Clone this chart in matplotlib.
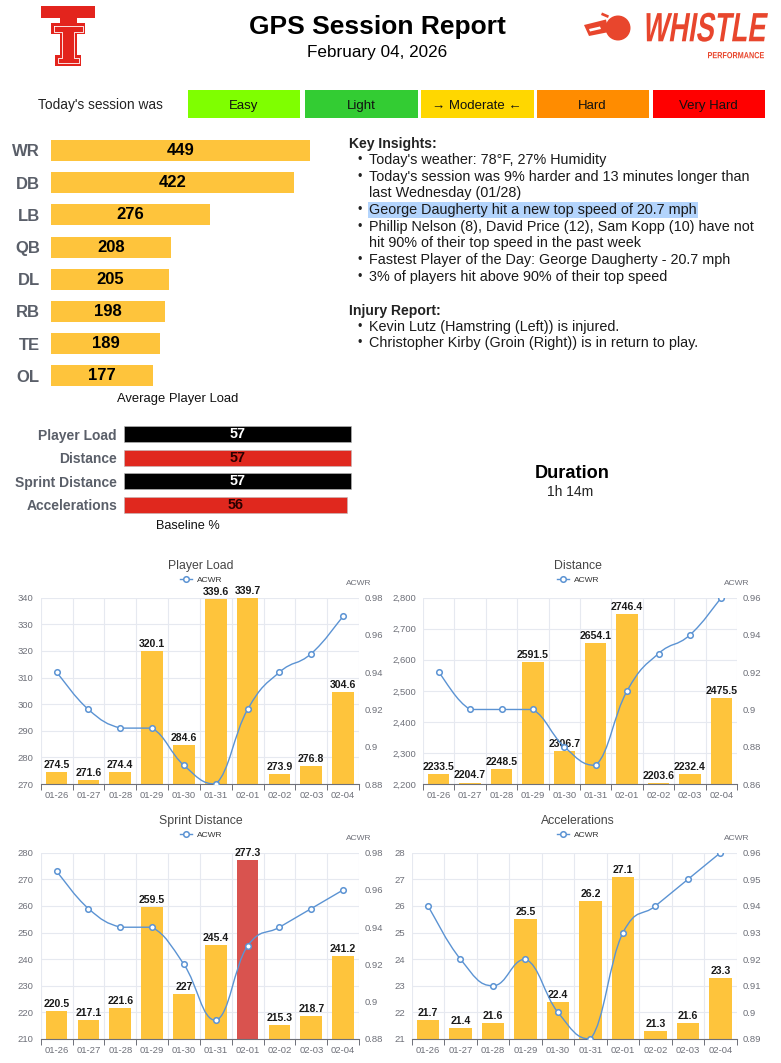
import numpy as np
import matplotlib
matplotlib.use("Agg")
import matplotlib.pyplot as plt
from matplotlib.patches import Rectangle, Polygon, Circle, PathPatch
from matplotlib.path import Path
from matplotlib.textpath import TextPath
from matplotlib.font_manager import FontProperties
from matplotlib.transforms import Affine2D
from matplotlib.lines import Line2D

plt.rcParams['font.family'] = ['Liberation Sans', 'DejaVu Sans']

# ---- data ----
report_date = "February 04, 2026"
session_levels = ["Easy", "Light", "\u2192 Moderate \u2190", "Hard", "Very Hard"]
session_colors = ["#7fff00", "#33cc33", "#ffd700", "#ff8c00", "#ff0000"]

pos_names = ["WR", "DB", "LB", "QB", "DL", "RB", "TE", "OL"]
pos_load = [449, 422, 276, 208, 205, 198, 189, 177]

base_names = ["Player Load", "Distance", "Sprint Distance", "Accelerations"]
base_pct = [57, 57, 57, 56]
base_colors = ["#000000", "#e0281e", "#000000", "#e0281e"]
base_text = ["white", "#2b0000", "white", "#2b0000"]

duration = "1h 14m"

insights = [
    "Today's weather: 78\u00b0F, 27% Humidity",
    "Today's session was 9% harder and 13 minutes longer than\nlast Wednesday (01/28)",
    "George Daugherty hit a new top speed of 20.7 mph",
    "Phillip Nelson (8), David Price (12), Sam Kopp (10) have not\nhit 90% of their top speed in the past week",
    "Fastest Player of the Day: George Daugherty - 20.7 mph",
    "3% of players hit above 90% of their top speed",
]
highlight_idx = 2
injuries = [
    "Kevin Lutz (Hamstring (Left)) is injured.",
    "Christopher Kirby (Groin (Right)) is in return to play.",
]

days = ["01-26", "01-27", "01-28", "01-29", "01-30", "01-31", "02-01", "02-02", "02-03", "02-04"]

load_vals = [274.5, 271.6, 274.4, 320.1, 284.6, 339.6, 339.7, 273.9, 276.8, 304.6]
load_acwr = [0.94, 0.92, 0.91, 0.91, 0.89, 0.88, 0.92, 0.94, 0.95, 0.97]

dist_vals = [2233.5, 2204.7, 2248.5, 2591.5, 2306.7, 2654.1, 2746.4, 2203.6, 2232.4, 2475.5]
dist_acwr = [0.92, 0.90, 0.90, 0.90, 0.88, 0.87, 0.91, 0.93, 0.94, 0.96]

sprint_vals = [220.5, 217.1, 221.6, 259.5, 227, 245.4, 277.3, 215.3, 218.7, 241.2]
sprint_acwr = [0.97, 0.95, 0.94, 0.94, 0.92, 0.89, 0.93, 0.94, 0.95, 0.96]
sprint_flag = [0, 0, 0, 0, 0, 0, 1, 0, 0, 0]

acc_vals = [21.7, 21.4, 21.6, 25.5, 22.4, 26.2, 27.1, 21.3, 21.6, 23.3]
acc_acwr = [0.94, 0.92, 0.91, 0.92, 0.90, 0.89, 0.93, 0.94, 0.95, 0.96]

YELLOW = "#fec43c"
RED_BAR = "#d9534f"
BLUE = "#5b93d3"
AXGRAY = "#6e7079"
LOGO_RED = "#e8462d"

W, H = 781, 1063
fig = plt.figure(figsize=(W / 100, H / 100), dpi=100)


def rect(l, t, r, b):
    return [l / W, 1 - b / H, (r - l) / W, (b - t) / H]


def fitted_text(ax, s, box, color, skew=0, weight="bold"):
    # draw a word stretched into a pixel box (l, t, r, b) on the y-down overlay
    l, t, r, b = box
    tp = TextPath((0, 0), s, size=100, prop=FontProperties(family="Liberation Sans", weight=weight))
    bb = tp.get_extents()
    tr = (Affine2D().translate(-bb.x0, -bb.y0)
          .scale((r - l) / bb.width, (b - t) / bb.height)
          .skew_deg(skew, 0)
          .scale(1, -1)
          .translate(l, b))
    ax.add_patch(PathPatch(tp, transform=tr + ax.transData, fc=color, ec="none"))


# overlay axes in pixel coordinates
ax0 = fig.add_axes([0, 0, 1, 1])
ax0.set_xlim(0, W)
ax0.set_ylim(H, 0)
ax0.axis("off")

# ---- header ----
ax0.text(377, 27, "GPS Session Report", ha="center", va="center", fontsize=19, fontweight="bold")
ax0.text(377, 53, report_date, ha="center", va="center", fontsize=12.3)

# double T logo
tr_red = "#e3241d"
for pts in [
    [(41, 6), (95, 6), (95, 18), (41, 18)],
    [(60, 17), (77, 17), (77, 24), (60, 24)],
    [(51, 23), (85, 23), (85, 34), (51, 34)],
    [(59.5, 33), (76.5, 33), (76.5, 56), (59.5, 56)],
    [(55, 55), (81, 55), (81, 65.5), (55, 65.5)],
]:
    ax0.add_patch(Polygon(pts, closed=True, fc=tr_red, ec="none"))
ox = [53.5, 82.5, 82.5, 74, 74, 78.5, 78.5, 57.5, 57.5, 62, 62, 53.5, 53.5]
oy = [25.5, 25.5, 31.5, 31.5, 57.5, 57.5, 63, 63, 57.5, 57.5, 31.5, 31.5, 25.5]
ax0.plot(ox, oy, color="white", lw=0.6)

# whistle logo
ax0.add_patch(Circle((618, 28), 12.5, fc=LOGO_RED, ec="none"))
ax0.add_patch(Polygon([(584, 25), (606, 19.5), (609, 32), (589, 36)], closed=True, fc=LOGO_RED, ec="none"))
ax0.add_patch(Polygon([(589, 29), (600, 26.5), (601, 29), (590, 31.5)], closed=True, fc="white", ec="none"))
ax0.add_patch(Polygon([(602, 12.5), (609, 15.5), (608, 18), (601, 15)], closed=True, fc=LOGO_RED, ec="none"))
fitted_text(ax0, "WHISTLE", (642, 12.7, 764, 41.7), LOGO_RED, skew=9)
fitted_text(ax0, "PERFORMANCE", (708, 52, 764, 58.3), LOGO_RED)

# session scale
ax0.text(38, 108.6, "Today's session was", ha="left", va="baseline", fontsize=9.9, color="#222222")
box_l = [187.5, 305, 421, 536.5, 652.5]
for i, (lab, col) in enumerate(zip(session_levels, session_colors)):
    ax0.add_patch(Rectangle((box_l[i], 90), 112.5, 28, fc=col, ec="none"))
    ax0.text(box_l[i] + 56, 108.8, lab, ha="center", va="baseline", fontsize=9.5, color="#111111")

# ---- position load bars ----
axp = fig.add_axes(rect(51, 134.4, 340, 391.9))
axp.set_facecolor("none")
yp = np.arange(len(pos_names))
axp.barh(yp, pos_load, height=0.655, color=YELLOW)
axp.set_xlim(0, max(pos_load) * 289 / 259)
axp.set_ylim(len(pos_names) - 0.5, -0.5)
axp.set_yticks(yp)
axp.set_yticklabels(pos_names, fontsize=12, fontweight="bold", color="#5a5f69")
axp.tick_params(axis="y", length=0, pad=8)
axp.set_xticks([])
for s in axp.spines.values():
    s.set_visible(False)
for i, v in enumerate(pos_load):
    axp.text(v / 2, i, str(v), ha="center", va="center", fontsize=12, fontweight="bold", color="black")
ax0.text(178, 399, "Average Player Load", ha="center", va="center", fontsize=9.4, color="#111111")

# ---- baseline bars ----
axb = fig.add_axes(rect(124, 422.45, 364, 516.55))
axb.set_facecolor("none")
yb = np.arange(len(base_names))
axb.barh(yb, base_pct, height=0.68, color=base_colors, edgecolor="#bbbbbb", linewidth=0.4)
axb.set_xlim(0, 57 * 240 / 226.7)
axb.set_ylim(len(base_names) - 0.5, -0.5)
axb.set_yticks(yb)
axb.set_yticklabels(base_names, fontsize=10, fontweight="bold", color="#5a5f69")
axb.tick_params(axis="y", length=0, pad=5)
axb.set_xticks([])
for s in axb.spines.values():
    s.set_visible(False)
for i, v in enumerate(base_pct):
    axb.text(v / 2, i, str(v), ha="center", va="center", fontsize=10.4, fontweight="bold", color=base_text[i])
ax0.text(188, 526, "Baseline %", ha="center", va="center", fontsize=9.2, color="#111111")

# ---- duration ----
ax0.text(572, 473, "Duration", ha="center", va="center", fontsize=13.1, fontweight="bold")
ax0.text(570, 492, duration, ha="center", va="center", fontsize=10, color="#222222")

# ---- key insights / injury report ----
step = 16.7
ax0.text(349, 144, "Key Insights:", ha="left", va="center", fontsize=10.1, fontweight="bold", color="#222222")
renderer = fig.canvas.get_renderer()
y = 160
for k, line in enumerate(insights):
    ax0.text(357, y, "\u2022", ha="left", va="center", fontsize=9, color="#222222")
    parts = line.split("\n")
    for j, p in enumerate(parts):
        t = ax0.text(369, y + j * step, p, ha="left", va="center", fontsize=10.4, color="#1a1a1a", zorder=3)
        if k == highlight_idx:
            ext = t.get_window_extent(renderer)
            inv = ax0.transData.inverted()
            (x0, _), (x1, _) = inv.transform([(ext.x0, ext.y0), (ext.x1, ext.y1)])
            ax0.add_patch(Rectangle((x0 - 1, y - 8.2), x1 - x0 + 2, 16.2, fc="#b3d4fc", ec="none", zorder=1))
    y += step * len(parts)

ax0.text(349, 311.5, "Injury Report:", ha="left", va="center", fontsize=10.1, fontweight="bold", color="#222222")
y = 327.3
for line in injuries:
    ax0.text(357, y, "\u2022", ha="left", va="center", fontsize=9, color="#222222")
    ax0.text(369, y, line, ha="left", va="center", fontsize=10.4, color="#1a1a1a")
    y += 16


# ---- trend charts ----
def smooth_path(xs, ys, s=0.22):
    verts = [(xs[0], ys[0])]
    codes = [Path.MOVETO]
    n = len(xs)
    for i in range(n - 1):
        a = i - 1 if i > 0 else i
        d = i + 2 if i + 2 < n else i + 1
        c1x = xs[i] + s * (xs[i + 1] - xs[a])
        c1y = ys[i] + s * (ys[i + 1] - ys[a])
        c2x = xs[i + 1] - s * (xs[d] - xs[i])
        c2y = ys[i + 1] - s * (ys[d] - ys[i])
        lo, hi = min(ys[i], ys[i + 1]), max(ys[i], ys[i + 1])
        c1y = min(max(c1y, lo), hi)
        c2y = min(max(c2y, lo), hi)
        verts += [(c1x, c1y), (c2x, c2y), (xs[i + 1], ys[i + 1])]
        codes += [Path.CURVE4] * 3
    return Path(verts, codes)


def chart(box, cx, title, vals, colors, acwr, ylim, ystep, rlim, rstep):
    l, t, r, b = box
    ax = fig.add_axes(rect(l, t, r, b))
    ax.set_facecolor("none")
    ax.set_axisbelow(True)
    x = np.arange(len(days))
    ax.bar(x, vals, width=0.68, color=colors, zorder=2)
    ax.set_xlim(-0.5, len(days) - 0.5)
    ax.set_ylim(*ylim)
    yt = np.arange(ylim[0], ylim[1] + ystep / 2, ystep)
    ax.set_yticks(yt)
    ax.set_yticklabels([f"{v:,.0f}" for v in yt])
    ax.set_xticks(x)
    ax.set_xticklabels(days)
    ax.set_xticks(np.arange(-0.5, len(days)), minor=True)
    ax.grid(axis="y", which="major", color="#e6e9f0", lw=0.8)
    ax.grid(axis="x", which="minor", color="#e6e9f0", lw=0.8)
    ax.tick_params(axis="x", which="major", length=0, labelsize=6.8, labelcolor=AXGRAY, pad=5)
    ax.tick_params(axis="x", which="minor", length=4, color=AXGRAY, width=0.7)
    ax.tick_params(axis="y", length=0, labelsize=6.8, labelcolor=AXGRAY, pad=5)
    for s in ["top", "right", "left"]:
        ax.spines[s].set_visible(False)
    ax.spines["bottom"].set_color(AXGRAY)
    ax.spines["bottom"].set_linewidth(0.8)
    for i, v in enumerate(vals):
        ax.annotate(f"{v:g}", (i, v), xytext=(0, 1.5), textcoords="offset points",
                    ha="center", va="bottom", fontsize=7.6, fontweight="bold",
                    color="#1a1a1a", annotation_clip=False, zorder=3)

    ax2 = ax.twinx()
    ax2.set_ylim(*rlim)
    rt = np.round(np.arange(rlim[0], rlim[1] + rstep / 2, rstep), 2)
    ax2.set_yticks(rt)
    ax2.set_yticklabels([f"{v:g}" for v in rt])
    ax2.tick_params(axis="y", length=0, labelsize=6.8, labelcolor=AXGRAY, pad=4)
    for s in ax2.spines.values():
        s.set_visible(False)
    ax2.add_patch(PathPatch(smooth_path(list(x), acwr), fill=False, ec=BLUE, lw=1.0, zorder=3))
    ax2.plot(x, acwr, ls="none", marker="o", ms=4, mfc="white", mec=BLUE, mew=1.1, zorder=4)
    ax2.text(1.0, 1 + 14.7 / (b - t), "ACWR", transform=ax2.transAxes, ha="center", va="center",
             fontsize=6, color=AXGRAY)

    ax0.text(cx, t - 32, title, ha="center", va="center", fontsize=8.8, color="#464646")
    h = Line2D([], [], color=BLUE, lw=1.0, marker="o", ms=4, mfc="white", mec=BLUE, mew=1.1)
    ax.legend(handles=[h], labels=["ACWR"], loc="center", bbox_to_anchor=(cx / W, 1 - (t - 18) / H),
              bbox_transform=fig.transFigure, frameon=False, fontsize=6, handlelength=1.5,
              handletextpad=0.5, labelcolor="#333333")


chart((40.7, 597.7, 359, 784), 201, "Player Load", load_vals, [YELLOW] * 10, load_acwr,
      (270, 340), 10, (0.88, 0.98), 0.02)
chart((423, 597.7, 737, 784), 578, "Distance", dist_vals, [YELLOW] * 10, dist_acwr,
      (2200, 2800), 100, (0.86, 0.96), 0.02)
chart((40.7, 852.7, 359, 1039), 201, "Sprint Distance", sprint_vals,
      [RED_BAR if f else YELLOW for f in sprint_flag], sprint_acwr,
      (210, 280), 10, (0.88, 0.98), 0.02)
chart((411.7, 852.7, 736.7, 1039), 578, "Accelerations", acc_vals, [YELLOW] * 10, acc_acwr,
      (21, 28), 1, (0.89, 0.96), 0.01)

fig.savefig("out.png", dpi=100)
